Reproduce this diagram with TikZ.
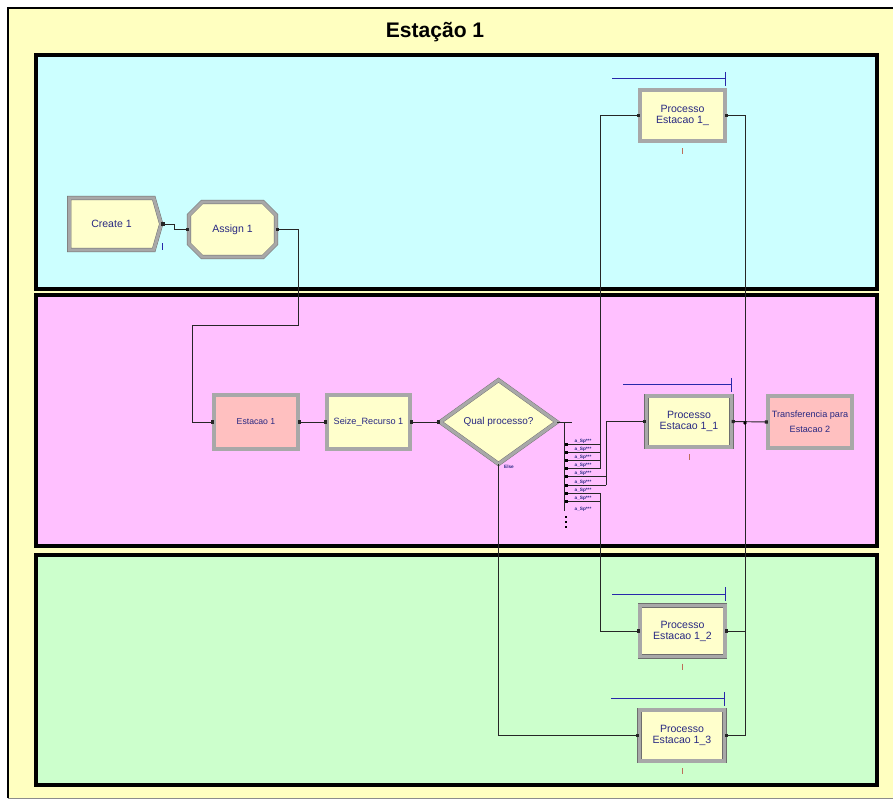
\documentclass[tikz,border=0pt]{standalone}
\usepackage{fontspec}
\setmainfont{Liberation Sans}
\usetikzlibrary{shapes.geometric,shapes.misc,shapes.symbols,arrows.meta,calc}
\newlength\pu
\setlength\pu{0.03cm}

\definecolor{pagebg}{RGB}{255,255,192}
\definecolor{lanecyan}{RGB}{204,255,255}
\definecolor{lanemag}{RGB}{255,192,255}
\definecolor{lanegreen}{RGB}{204,255,204}
\definecolor{boxyellow}{RGB}{255,255,204}
\definecolor{boxpink}{RGB}{255,192,192}
\definecolor{bevel}{RGB}{110,110,110}
\definecolor{bevellight}{RGB}{168,168,168}
\definecolor{labelblue}{RGB}{40,40,130}
\definecolor{queueblue}{RGB}{40,40,170}
\definecolor{tickbrown}{RGB}{190,110,90}

\tikzset{
  module/.style={draw=bevel, line width=0.35pt, double=bevellight,
    double distance=2.8pt, inner sep=1pt, text=labelblue, align=center,
    font=\fontsize{9}{10}\selectfont},
  yellowmod/.style={module, fill=boxyellow},
  pinkmod/.style={module, fill=boxpink},
  procmod/.style={yellowmod, minimum width=85\pu, minimum height=51\pu},
  conn/.style={draw=black!85, line width=0.8pt},
  link/.style={conn, {Square[length=2.6pt,width=2.6pt]}-{Square[length=2.6pt,width=2.6pt]}},
  feed/.style={conn, -{Square[length=2.6pt,width=2.6pt]}},
  outlink/.style={conn, {Square[length=2.6pt,width=2.6pt]}-},
  brlabel/.style={text=labelblue, inner sep=0pt, font=\bfseries\fontsize{4}{4.2}\selectfont},
  queue/.style={draw=queueblue, line width=0.8pt},
  tick/.style={draw=tickbrown, line width=0.8pt},
}

\begin{document}
\begin{tikzpicture}[x=0.03cm,y=-0.03cm]
\useasboundingbox (0,0) rectangle (893,801);
\fill[white] (0,0) rectangle (893,801);

% outer frame
\fill[pagebg] (8,8) rectangle (893,798);
\draw[black, line width=2\pu] (8,798) -- (8,8) -- (893,8);
\draw[black!45, line width=1\pu] (8,798) -- (893,798);
\node[font=\bfseries\fontsize{18}{20}\selectfont] (title) at (435,32) {Estação 1};

% swimlanes
\path[fill=lanecyan, draw=black, line width=3.5\pu] (36,55) rectangle (877,289);
\path[fill=lanemag, draw=black, line width=3.5\pu] (36,295) rectangle (877,546);
\path[fill=lanegreen, draw=black, line width=3.5\pu] (36,555) rectangle (877,785);

% modules
\node[yellowmod, signal, signal to=east, signal pointer angle=148,
      minimum width=92\pu, minimum height=52\pu, anchor=west] (cr) at (69,224) {Create 1};
\node[yellowmod, chamfered rectangle, chamfered rectangle xsep=7\pu,
      chamfered rectangle ysep=7\pu, minimum width=87\pu, minimum height=55\pu]
      (as) at (232.5,229.5) {Assign 1};
\node[pinkmod, minimum width=84\pu, minimum height=54\pu,
      font=\fontsize{7.4}{8}\selectfont] (es) at (256,422) {Estacao 1};
\node[yellowmod, minimum width=83\pu, minimum height=54\pu,
      font=\fontsize{7.8}{8}\selectfont] (sz) at (368.5,422) {Seize\_Recurso 1};
\node[yellowmod, diamond, aspect=1.39, inner sep=0pt, minimum width=117\pu,
      minimum height=84\pu, font=\fontsize{8.5}{9}\selectfont] (dq) at (498.5,422) {Qual processo?};
\node[procmod, font=\fontsize{9}{9.4}\selectfont] (p0) at (682.5,115.5) {Processo\\Estacao 1\_};
\node[procmod, font=\fontsize{9}{9.4}\selectfont] (p1) at (689,421.5) {Processo\\Estacao 1\_1};
\node[pinkmod, minimum width=84\pu, minimum height=52\pu,
      font=\fontsize{7.8}{12.5}\selectfont] (tr) at (810,422) {Transferencia para\\Estacao 2};
\node[procmod, font=\fontsize{9}{9.4}\selectfont] (p2) at (682.5,631) {Processo\\Estacao 1\_2};
\node[procmod, font=\fontsize{9}{9.4}\selectfont] (p3) at (682,735.5) {Processo\\Estacao 1\_3};

% queue markers and small indicators
\foreach \n/\dx in {p0/30,p1/25,p2/30,p3/30} {
  \draw[queue] ($(\n.north east)+(0,-11)$) -- ($(\n.north west)+(-\dx+2,-11)$);
  \draw[queue] ($(\n.north east)+(0,-18)$) -- ($(\n.north east)+(0,-4)$);
  \draw[tick] ($(\n.south)+(0,7)$) -- ($(\n.south)+(0,13)$);
}
\draw[draw=queueblue, line width=0.8pt] (162,243) -- (162,250);

% connectors
\draw[link] (cr.east) -- ++(13,0) |- (as.west);
\draw[link] (as.east) -| (298,325) -- (192,325) |- (es.west);
\draw[link] (es.east) -- (sz.west);
\draw[link] (sz.east) -- (dq.west);
\draw[conn] (dq.east) -- ++(15,0);
\draw[conn] ($(dq.east)+(7,0)$) -- ++(0,89);

% decide branches
\foreach \k/\xe in {0/600,1/600,2/600,3/600,4/606,5/606,6/600,7/600} {
  \pgfmathsetmacro\yy{444+8.2*\k}
  \draw[conn] (566,\yy) -- (\xe,\yy);
  \fill[black] (564.5,\yy-1.5) rectangle (567.5,\yy+1.5);
  \node[brlabel] (b\k) at (583,\yy-3) {a\_Sp***};
}
\node[brlabel] (b8) at (583,509.5) {a\_Sp***};
\foreach \yy in {517,522,527} \fill[black] (564.5,\yy-1) rectangle (566.5,\yy+1);

\draw[feed] (600,468.6) |- (p0.west);
\draw[feed] (606,485) |- (p1.west);
\draw[feed] (600,493) |- (p2.west);
\draw[feed] (dq.south) |- (p3.west);
\node[brlabel] (else) at (509,467) {Else};

% outputs to the transfer module
\coordinate (join) at (745,423);
\draw[outlink] (p0.east) -| (join);
\draw[outlink] (p2.east) -| (join);
\draw[outlink] (p3.east) -| (join);
\draw[link] (p1.east) -- (tr.west);
\fill[black] (join) circle (1.8\pu);
\end{tikzpicture}
\end{document}
